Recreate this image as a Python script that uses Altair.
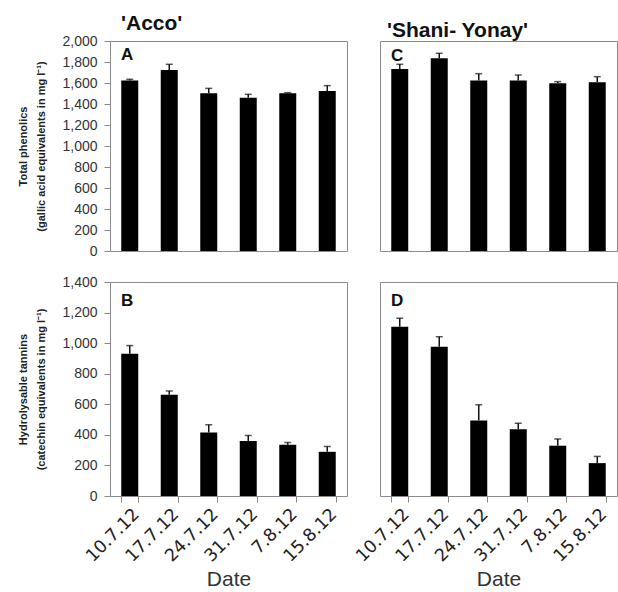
import altair as alt
import pandas as pd

dates = ["10.7.12", "17.7.12", "24.7.12", "31.7.12", "7.8.12", "15.8.12"]

acco_phenolics = [1625, 1724, 1502, 1460, 1502, 1524]
acco_phenolics_err = [10, 54, 47, 32, 6, 51]
shani_phenolics = [1733, 1835, 1625, 1625, 1597, 1606]
shani_phenolics_err = [45, 48, 64, 51, 16, 54]

acco_tannins = [930, 663, 416, 359, 335, 289]
acco_tannins_err = [54, 24, 50, 37, 15, 35]
shani_tannins = [1108, 976, 494, 437, 329, 215]
shani_tannins_err = [55, 66, 103, 39, 44, 44]

phen_ticks = list(range(0, 2001, 200))
tan_ticks = list(range(0, 1401, 200))

FONT = "Liberation Sans"
W = 237


def panel(values, errs, letter, ymax, ticks, height, left, bottom,
          title=None, ytitle=None, letter_y=15, title_dx=0):
    df = pd.DataFrame({"date": dates, "value": values, "err": errs})
    df["top"] = df["value"] + df["err"]
    xscale = alt.Scale(domain=dates, paddingInner=0.57, paddingOuter=0.285)
    if bottom:
        xaxis = alt.Axis(title="Date", labelAngle=-45, labelFontSize=17.5,
                         labelFont="DejaVu Sans", labelColor="#222", tickBand="extent",
                         tickColor="#888", tickSize=6, domain=False,
                         titleFont=FONT, titleFontSize=21, titleFontWeight="normal",
                         titleColor="#333", titlePadding=4, labelPadding=3,
                         labelOverlap=False)
    else:
        xaxis = None
    yscale = alt.Scale(domain=[0, ymax], nice=False)
    if left:
        yaxis = alt.Axis(values=ticks, format=",.0f", labelFont=FONT, labelFontSize=14,
                         labelColor="#333", tickColor="#888", tickSize=6,
                         domain=False, grid=False, title=ytitle, titleFont=FONT,
                         titleFontSize=11, titleFontWeight="bold", titleColor="#222",
                         titleLineHeight=18, titlePadding=15, labelPadding=7,
                         labelOverlap=False)
    else:
        yaxis = alt.Axis(labels=False, ticks=False, domain=False, grid=False, title=None)

    xenc = alt.X("date:N", scale=xscale, axis=xaxis, sort=dates)
    base = alt.Chart(df)
    bars = base.mark_bar(color="black").encode(
        x=xenc,
        y=alt.Y("value:Q", scale=yscale, axis=yaxis),
    )
    rules = base.mark_rule(color="#111", strokeWidth=1.5).encode(
        x=xenc, y=alt.Y("value:Q", scale=yscale, axis=yaxis), y2="top:Q"
    )
    caps = base.mark_tick(color="#111", size=7, thickness=1.5).encode(
        x=xenc, y=alt.Y("top:Q", scale=yscale, axis=yaxis)
    )
    lab = alt.Chart(alt.Data(values=[{"t": letter}])).mark_text(
        font=FONT, fontSize=17, fontWeight="bold", align="left", baseline="middle",
        color="#111"
    ).encode(text="t:N", x=alt.value(11), y=alt.value(letter_y))
    ch = alt.layer(bars, rules, caps, lab).properties(width=W, height=height)
    if title:
        ch = ch.properties(title=alt.TitleParams(
            title, anchor="start", font=FONT, fontSize=21, fontWeight="bold",
            color="#111", dx=title_dx, offset=0, frame="group"))
    return ch


A = panel(acco_phenolics, acco_phenolics_err, "A", 2000, phen_ticks, 210, True, False,
          title="'Acco'", ytitle=["Total phenolics", "(gallic acid equivalents in mg l⁻¹)"],
          letter_y=14, title_dx=11)
B = panel(acco_tannins, acco_tannins_err, "B", 1400, tan_ticks, 214, True, True,
          ytitle=["Hydrolysable tannins", "(catechin equivalents in mg l⁻¹)"], letter_y=19)
C = panel(shani_phenolics, shani_phenolics_err, "C", 2000, phen_ticks, 210, False, False,
          title="'Shani- Yonay'", letter_y=15, title_dx=7)
D = panel(shani_tannins, shani_tannins_err, "D", 1400, tan_ticks, 214, False, True,
          letter_y=19)

chart = alt.concat(A, C, B, D, columns=2, spacing={"row": 27, "column": 33},
                   bounds="flush", align="all").configure_view(
    stroke="#8a8a8a", strokeWidth=1
).properties(padding={"left": 17, "top": 12, "right": 0, "bottom": 0}, background="white")

chart.save("out.html", embed_options={"renderer": "svg", "actions": False})
